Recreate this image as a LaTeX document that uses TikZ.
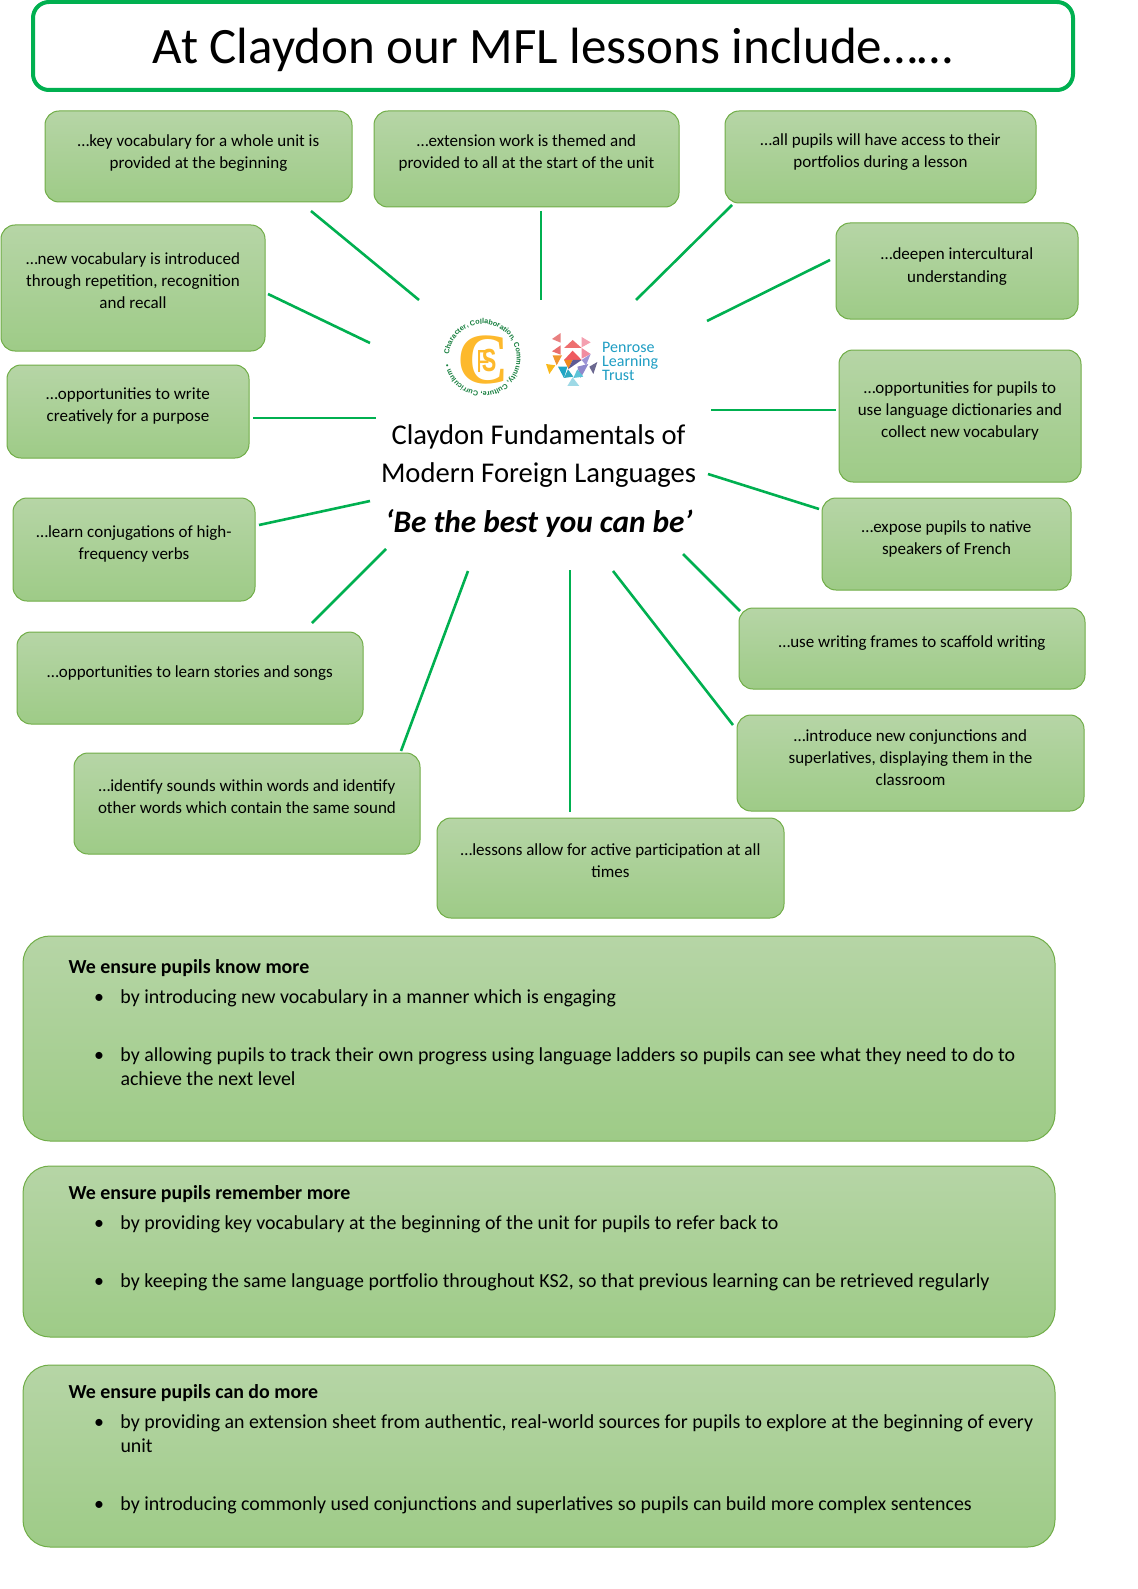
\documentclass[tikz,border=0pt]{standalone}
\usepackage{fontspec}
\setmainfont{Carlito}
\newfontfamily\logofont{Liberation Sans}
\newfontfamily\crestfont{Liberation Serif}
\usepackage{tikz}
\usetikzlibrary{decorations.text}
\definecolor{lineGreen}{RGB}{0,176,80}
\definecolor{cardTop}{RGB}{182,213,166}
\definecolor{cardBottom}{RGB}{158,203,135}
\definecolor{cardEdge}{RGB}{112,173,71}
\definecolor{crestYellow}{RGB}{253,185,44}
\definecolor{crestGreen}{RGB}{20,125,60}
\definecolor{trustBlue}{RGB}{30,157,195}
\newcommand{\bulletline}[1]{\hspace*{66pt}\makebox[0pt]{\textbullet}\hspace*{21.5pt}#1}
\newcommand{\contline}[1]{\hspace*{87.5pt}#1}
\newcommand{\headline}[1]{\hspace*{35.5pt}\textbf{#1}}
\begin{document}
\begin{tikzpicture}[x=1pt, y=-1pt,
    card/.style={draw=cardEdge, line width=1pt, rounded corners=14pt,
                 top color=cardTop, bottom color=cardBottom,
                 inner sep=0pt, align=flush center, text height=11pt,
                 font=\fontsize{17}{22}\selectfont},
    twoline/.style={text height=33pt},
    threeline/.style={text height=55pt},
    panel/.style={card, rounded corners=27pt, minimum width=1032pt,
                  text width=1012pt, align=flush left, text height=14pt,
                  font=\fontsize{19.9}{24.3}\selectfont},
    spoke/.style={lineGreen, line width=2.6pt}
  ]
    \useasboundingbox (0,0) rectangle (1137,1589);

    % Title
    \node[draw=lineGreen, line width=4pt, rounded corners=16pt, fill=white,
          minimum width=1040pt, minimum height=88pt, text height=38pt, text depth=2pt,
          font=\fontsize{51}{54}\selectfont] (title) at (553,46)
      {At Claydon our MFL lessons include\ldots\ldots};

    % Outer cards, clockwise from top left
    \node[card, twoline, minimum width=307pt, minimum height=91pt, text depth=8pt] (key) at (198.5,156.5)
      {\ldots key vocabulary for a whole unit is\\provided at the beginning};
    \node[card, twoline, minimum width=305pt, minimum height=96pt, text depth=13pt] (extension) at (526.5,159)
      {\ldots extension work is themed and\\provided to all at the start of the unit};
    \node[card, twoline, minimum width=311pt, minimum height=92pt, text depth=11pt] (portfolios) at (880.5,157)
      {\ldots all pupils will have access to their\\portfolios during a lesson};
    \node[card, twoline, minimum width=242pt, minimum height=96pt, text depth=11pt] (deepen) at (957,271)
      {\ldots deepen intercultural\\understanding};
    \node[card, threeline, minimum width=242pt, minimum height=132pt, text depth=13pt] (dictionaries) at (960,416)
      {\ldots opportunities for pupils to\\use language dictionaries and\\collect new vocabulary};
    \node[card, twoline, minimum width=249pt, minimum height=92pt, text depth=13pt] (native) at (946.5,544)
      {\ldots expose pupils to native\\speakers of French};
    \node[card, minimum width=346pt, minimum height=81pt, text depth=13pt] (frames) at (912,648.5)
      {\ldots use writing frames to scaffold writing};
    \node[card, threeline, minimum width=347pt, minimum height=96pt, text depth=11pt] (superlatives) at (910.5,763)
      {\ldots introduce new conjunctions and\\superlatives, displaying them in the\\classroom};
    \node[card, twoline, minimum width=347pt, minimum height=100pt, text depth=15pt] (participation) at (610.5,868)
      {\ldots lessons allow for active participation at all\\times};
    \node[card, twoline, minimum width=346pt, minimum height=101pt, text depth=13pt] (sounds) at (247,803.5)
      {\ldots identify sounds within words and identify\\other words which contain the same sound};
    \node[card, minimum width=346pt, minimum height=92pt, text depth=13pt] (stories) at (190,678)
      {\ldots opportunities to learn stories and songs};
    \node[card, twoline, minimum width=242pt, minimum height=103pt, text depth=14pt] (conjugations) at (134,549.5)
      {\ldots learn conjugations of high-\\frequency verbs};
    \node[card, twoline, minimum width=242pt, minimum height=93pt, text depth=14pt] (creative) at (128,411.5)
      {\ldots opportunities to write\\creatively for a purpose};
    \node[card, threeline, minimum width=264pt, minimum height=126pt, text depth=14pt] (repetition) at (133,288)
      {\ldots new vocabulary is introduced\\through repetition, recognition\\and recall};

    % Centre text
    \node[font=\fontsize{28.6}{38}\selectfont, align=center] (fundamentals) at (538.5,456)
      {Claydon Fundamentals of\\Modern Foreign Languages};
    \node[font=\fontsize{31.3}{34}\selectfont\bfseries\itshape, anchor=base] (motto) at (539,532)
      {‘Be the best you can be’};

    % Crest
    \node[text=crestYellow, font=\fontsize{72}{72}\crestfont\bfseries] (crestC) at (483,360) {C};
    \node[text=crestYellow, font=\fontsize{32}{32}\logofont, transform shape, xscale=0.68] (crestF) at (483,361) {F};
    \node[text=crestYellow, font=\fontsize{32}{32}\logofont\bfseries, transform shape, xscale=0.68] (crestS) at (489,360) {S};
    \path[decorate, decoration={text along path,
          text={|\fontsize{7.2}{9}\logofont\bfseries\color{crestGreen}|Character, Collaboration, Community, Culture, Curriculum • }}]
      (482.7,358) ++(174:34pt) arc[start angle=174, end angle=-180, radius=34pt];

    % Trust logo
    \begin{scope}[shift={(540,328)}, x=0.3333pt, y=-0.3333pt]
      \foreach \ax/\ay/\bx/\by/\cx/\cy/\shade in {
          62/15/36/33/62/44/{233,128,128},
          125/27/152/43/125/58/{244,160,176},
          98/36/72/60/125/60/{238,111,111},
          62/52/36/70/62/80/{233,110,110},
          125/60/152/78/125/92/{240,140,160},
          98/68/72/96/125/96/{239,91,96},
          38/82/66/82/50/112/{240,150,46},
          72/96/98/96/85/122/{240,138,29},
          152/78/125/96/138/112/{156,148,214},
          98/96/125/96/84/124/{93,90,148},
          18/108/46/112/28/138/{249,185,28},
          54/116/82/116/72/150/{31,165,196},
          112/116/145/108/122/150/{142,136,204},
          148/116/172/102/160/138/{107,104,144},
          84/124/100/146/72/150/{47,169,192},
          112/124/130/146/100/150/{92,196,216},
          98/148/118/174/82/174/{158,217,230}} {
        \definecolor{petal}{RGB}{\shade}
        \fill[petal] (\ax,\ay) -- (\bx,\by) -- (\cx,\cy) -- cycle;
      }
    \end{scope}
    \node[text=trustBlue, font=\fontsize{16}{14}\selectfont, align=flush left, anchor=west, inner sep=0pt] (trust) at (602,361)
      {Penrose\\Learning\\Trust};

    % Spokes
    \coordinate (hub1) at (419,300);  \coordinate (rim1) at (311,211);
    \coordinate (hub2) at (541,300);  \coordinate (rim2) at (541,211);
    \coordinate (hub3) at (636,300);  \coordinate (rim3) at (732,205);
    \coordinate (hub4) at (707,321);  \coordinate (rim4) at (830,260);
    \coordinate (hub5) at (711,410);  \coordinate (rim5) at (836,410);
    \coordinate (hub6) at (708,474);  \coordinate (rim6) at (819,509);
    \coordinate (hub7) at (683,554);  \coordinate (rim7) at (740,611);
    \coordinate (hub8) at (613,571);  \coordinate (rim8) at (733,725);
    \coordinate (hub9) at (570,570);  \coordinate (rim9) at (570,812);
    \coordinate (hub10) at (468,571); \coordinate (rim10) at (401,751);
    \coordinate (hub11) at (386,549); \coordinate (rim11) at (312,623);
    \coordinate (hub12) at (370,501); \coordinate (rim12) at (259,525);
    \coordinate (hub13) at (376,418); \coordinate (rim13) at (253,418);
    \coordinate (hub14) at (370,343); \coordinate (rim14) at (268,294);
    \foreach \i in {1,...,14} {
      \draw[spoke] (rim\i) -- (hub\i);
    }

    % Panels
    \node[panel, minimum height=205pt, text depth=145pt] (know) at (539,1038.5)
      {\headline{We ensure pupils know more}\\[5.7pt]
       \bulletline{by introducing new vocabulary in a manner which is engaging}\\[33.7pt]
       \bulletline{by allowing pupils to track their own progress using language ladders so pupils can see what they need to do to}\\
       \contline{achieve the next level}};
    \node[panel, minimum height=171pt, text depth=119pt] (remember) at (539,1251.5)
      {\headline{We ensure pupils remember more}\\[5.7pt]
       \bulletline{by providing key vocabulary at the beginning of the unit for pupils to refer back to}\\[33.7pt]
       \bulletline{by keeping the same language portfolio throughout KS2, so that previous learning can be retrieved regularly}};
    \node[panel, minimum height=182pt, text depth=130pt] (domore) at (539,1456)
      {\headline{We ensure pupils can do more}\\[5.7pt]
       \bulletline{by providing an extension sheet from authentic, real-world sources for pupils to explore at the beginning of every}\\
       \contline{unit}\\[33.7pt]
       \bulletline{by introducing commonly used conjunctions and superlatives so pupils can build more complex sentences}};
\end{tikzpicture}
\end{document}
